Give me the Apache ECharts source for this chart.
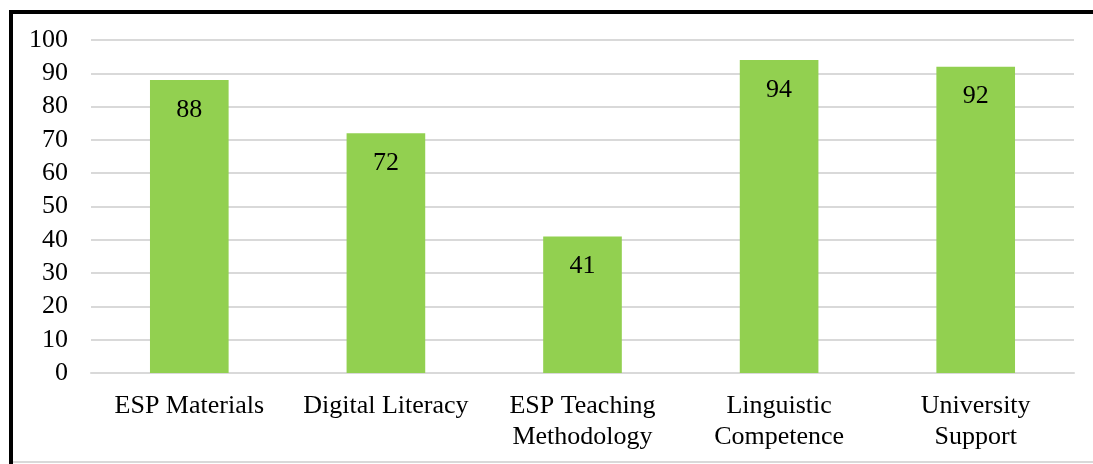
<!DOCTYPE html>
<html>
<head>
<meta charset="utf-8">
<script src="https://cdn.jsdelivr.net/npm/echarts@6/dist/echarts.min.js"></script>
<style>html,body{margin:0;padding:0;background:#fff;}#c{width:1093px;height:464px;}</style>
</head>
<body>
<div id="c"></div>
<script>
const categories = ['ESP Materials', 'Digital Literacy', 'ESP Teaching\nMethodology', 'Linguistic\nCompetence', 'University\nSupport'];
const values = [88, 72, 41, 94, 92];
const yTicks = { min: 0, max: 100, interval: 10 };

const chart = echarts.init(document.getElementById('c'), null, { renderer: 'canvas' });
const font = '"Liberation Serif", "Times New Roman", serif';
chart.setOption({
  animation: false,
  backgroundColor: '#fff',
  grid: { left: 91, right: 19, top: 40, bottom: 91 },
  xAxis: {
    type: 'category',
    data: categories,
    axisLine: { lineStyle: { color: '#d9d9d9', width: 2 } },
    axisTick: { show: false },
    axisLabel: { interval: 0, color: '#000', fontFamily: font, fontSize: 26, lineHeight: 31, margin: 18 }
  },
  yAxis: {
    type: 'value',
    min: yTicks.min, max: yTicks.max, interval: yTicks.interval,
    axisLine: { show: false },
    axisTick: { show: false },
    splitLine: { lineStyle: { color: '#d9d9d9', width: 2 } },
    axisLabel: { color: '#000', fontFamily: font, fontSize: 26, margin: 23 }
  },
  series: [{
    type: 'bar',
    data: values,
    barWidth: '40%',
    itemStyle: { color: '#92D050' },
    label: { show: true, position: 'insideTop', distance: 17, color: '#000', fontFamily: font, fontSize: 26 }
  }],
  graphic: [
    { type: 'rect', shape: { x: 9, y: 10, width: 4, height: 454 }, style: { fill: '#000' } },
    { type: 'rect', shape: { x: 9, y: 10, width: 1084, height: 4 }, style: { fill: '#000' } },
    { type: 'rect', shape: { x: 13, y: 461, width: 1080, height: 2 }, style: { fill: '#d9d9d9' } }
  ]
});
</script>
</body>
</html>
